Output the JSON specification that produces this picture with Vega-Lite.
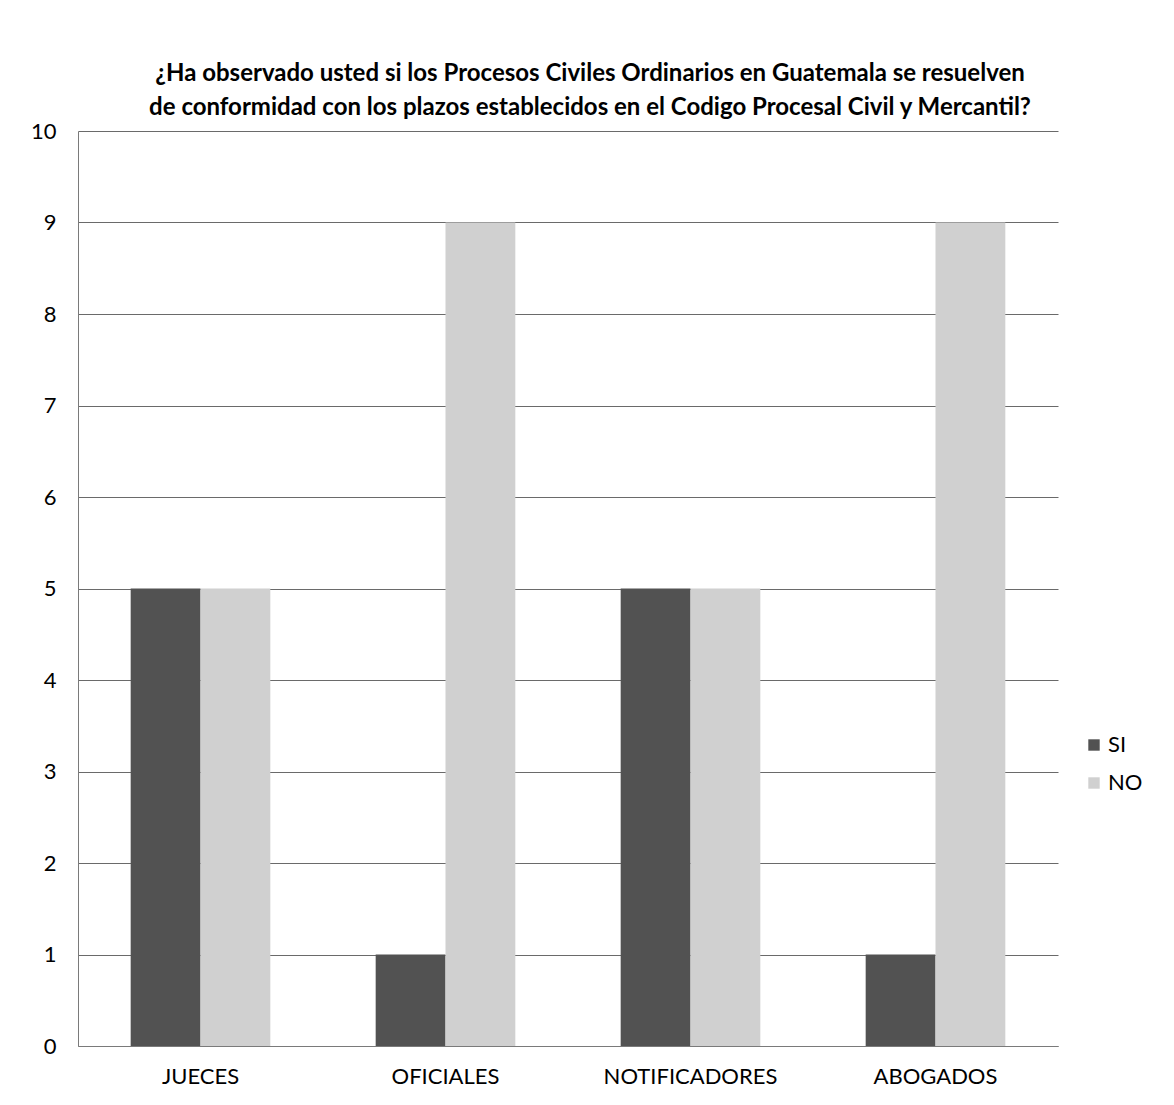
{
  "$schema": "https://vega.github.io/schema/vega-lite/v6.json",
  "width": 980,
  "height": 915,
  "autosize": {"type": "none"},
  "padding": {"left": 78, "top": 131, "right": 116, "bottom": 59},
  "background": "white",
  "title": {
    "text": ["¿Ha observado usted si los Procesos Civiles Ordinarios en Guatemala se resuelven", "de conformidad  con los plazos establecidos en el Codigo Procesal Civil y Mercantil?"],
    "anchor": "middle",
    "frame": "group",
    "dx": 22,
    "offset": 0,
    "font": "Lato",
    "fontSize": 24,
    "fontWeight": "bold",
    "lineHeight": 34,
    "color": "#000000"
  },
  "data": {
    "values": [
      {"grupo": "JUECES", "respuesta": "SI", "valor": 5},
      {"grupo": "JUECES", "respuesta": "NO", "valor": 5},
      {"grupo": "OFICIALES", "respuesta": "SI", "valor": 1},
      {"grupo": "OFICIALES", "respuesta": "NO", "valor": 9},
      {"grupo": "NOTIFICADORES", "respuesta": "SI", "valor": 5},
      {"grupo": "NOTIFICADORES", "respuesta": "NO", "valor": 5},
      {"grupo": "ABOGADOS", "respuesta": "SI", "valor": 1},
      {"grupo": "ABOGADOS", "respuesta": "NO", "valor": 9}
    ]
  },
  "mark": {"type": "bar"},
  "encoding": {
    "x": {
      "field": "grupo",
      "type": "nominal",
      "sort": ["JUECES", "OFICIALES", "NOTIFICADORES", "ABOGADOS"],
      "scale": {"paddingInner": 0.43, "paddingOuter": 0.215},
      "axis": {
        "title": null,
        "labelAngle": 0,
        "labelFont": "Lato",
        "labelFontSize": 22,
        "labelColor": "#000000",
        "labelPadding": 20,
        "ticks": false,
        "domainColor": "#7a7a7a",
        "grid": false
      }
    },
    "xOffset": {"field": "respuesta", "type": "nominal", "sort": ["SI", "NO"], "scale": {"paddingInner": 0, "paddingOuter": 0}},
    "y": {
      "field": "valor",
      "type": "quantitative",
      "scale": {"domain": [0, 10]},
      "axis": {
        "title": null,
        "values": [0, 1, 2, 3, 4, 5, 6, 7, 8, 9, 10],
        "labelFont": "Lato",
        "labelFontSize": 22,
        "labelColor": "#000000",
        "labelPadding": 22,
        "ticks": false,
        "domainColor": "#7a7a7a",
        "gridColor": "#6a6a6a",
        "gridWidth": 1
      }
    },
    "color": {
      "field": "respuesta",
      "type": "nominal",
      "sort": ["SI", "NO"],
      "scale": {"domain": ["SI", "NO"], "range": ["#525252", "#d0d0d0"]},
      "legend": {
        "title": null,
        "orient": "none",
        "legendX": 1005,
        "legendY": 603,
        "symbolType": "square",
        "symbolSize": 130,
        "labelFont": "Lato",
        "labelFontSize": 22,
        "labelColor": "#000000",
        "rowPadding": 16,
        "labelOffset": 3
      }
    }
  },
  "config": {
    "view": {"stroke": null}
  }
}
